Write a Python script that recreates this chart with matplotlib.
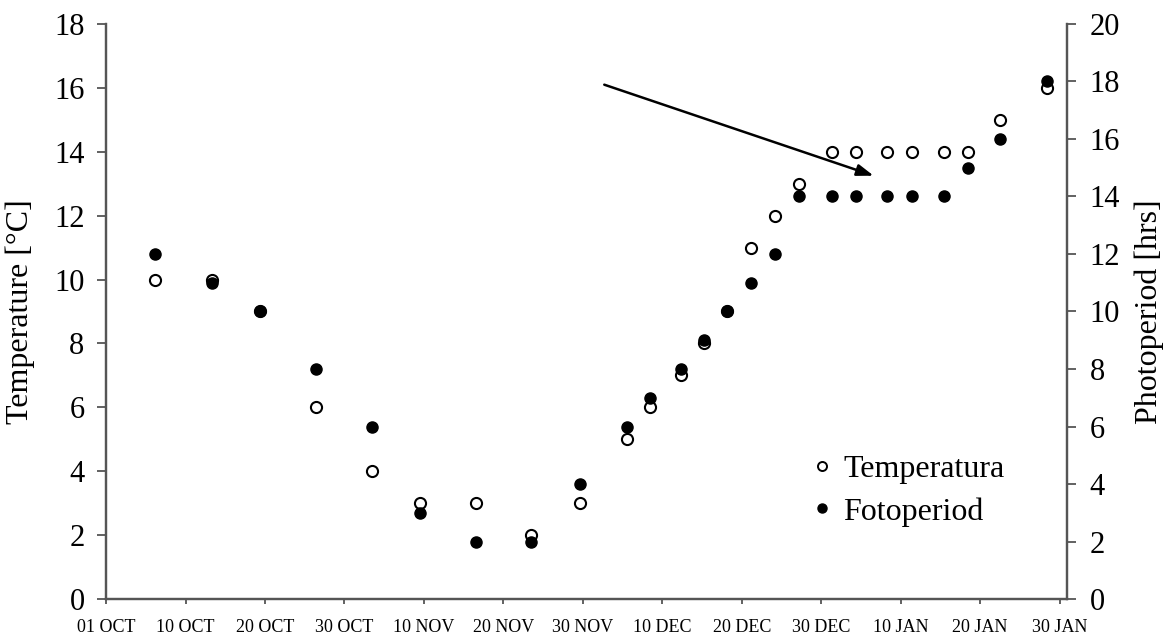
import matplotlib
matplotlib.use("Agg")
import matplotlib.pyplot as plt
from matplotlib.lines import Line2D

plt.rcParams['font.family'] = ['Liberation Serif', 'DejaVu Serif']

# Data (x in days since 01 OCT)
days = [6.2, 13.3, 19.4, 26.4, 33.5, 39.5, 46.5, 53.5, 59.6, 65.5, 68.4, 72.3,
        75.2, 78.2, 81.2, 84.2, 87.2, 91.4, 94.4, 98.3, 101.4, 105.4, 108.5,
        112.5, 118.4]
temperature = [10, 10, 9, 6, 4, 3, 3, 2, 3, 5, 6, 7, 8, 9, 11, 12, 13, 14, 14,
               14, 14, 14, 14, 15, 16]
photoperiod = [12, 11, 10, 8, 6, 3, 2, 2, 4, 6, 7, 8, 9, 10, 11, 12, 14, 14,
               14, 14, 14, 14, 15, 16, 18]
xtick_pos = [0, 10, 20, 30, 40, 50, 60, 70, 80, 90, 100, 110, 120]
xtick_labels = ["01 OCT", "10 OCT", "20 OCT", "30 OCT", "10 NOV", "20 NOV",
                "30 NOV", "10 DEC", "20 DEC", "30 DEC", "10 JAN", "20 JAN",
                "30 JAN"]
left_ticks = [0, 2, 4, 6, 8, 10, 12, 14, 16, 18]
right_ticks = [0, 2, 4, 6, 8, 10, 12, 14, 16, 18, 20]

fig = plt.figure(figsize=(11.68, 6.41), dpi=100)
ax = fig.add_axes([0.0908, 0.0655, 0.9133 - 0.0908, 0.9626 - 0.0655])
ax2 = ax.twinx()

spine_col = '#555555'
ax.plot(days, temperature, linestyle='none', marker='o', ms=8,
        mfc='white', mec='black', mew=1.5, zorder=3)
ax2.plot(days, photoperiod, linestyle='none', marker='o', ms=8,
         mfc='black', mec='black', mew=1.0, zorder=3)

ax.set_xlim(0, 120.9)
ax.set_ylim(0, 18)
ax2.set_ylim(0, 20)

ax.set_xticks(xtick_pos)
ax.set_xticklabels(xtick_labels, fontsize=13)
ax.set_yticks(left_ticks)
ax.set_yticklabels([str(t) for t in left_ticks], fontsize=22)
ax2.set_yticks(right_ticks)
ax2.set_yticklabels([str(t) for t in right_ticks], fontsize=22)

for a in (ax, ax2):
    a.spines['top'].set_visible(False)
    for s in ('left', 'right', 'bottom'):
        a.spines[s].set_color(spine_col)
        a.spines[s].set_linewidth(1.6)
    a.tick_params(direction='out', width=1.3, color=spine_col)
ax.tick_params(axis='x', length=3.6, pad=11)
ax.tick_params(axis='y', length=6.5, pad=9)
ax2.tick_params(axis='y', length=6.5, pad=10)

ax.set_ylabel("Temperature [°C]", fontsize=23)
ax2.set_ylabel("Photoperiod [hrs]", fontsize=23)
ax.yaxis.set_label_coords(-0.0735, 0.5)
ax2.yaxis.set_label_coords(1.071, 0.5)

# Arrow annotation (data coords on temperature axis)
ax.annotate("", xy=(96.6, 13.25), xytext=(62.7, 16.1),
            arrowprops=dict(arrowstyle='-|>,head_length=1.0,head_width=0.35',
                            color='black', lw=1.8, shrinkA=0, shrinkB=0))

handles = [Line2D([], [], linestyle='none', marker='o', ms=6.5, mfc='white',
                  mec='black', mew=1.4),
           Line2D([], [], linestyle='none', marker='o', ms=6.5, mfc='black',
                  mec='black')]
ax2.legend(handles, ["Temperatura", "Fotoperiod"], loc='upper left',
           bbox_to_anchor=(0.734, 0.2516), frameon=False, fontsize=23,
           handletextpad=0.3, handlelength=0.7, labelspacing=0.42,
           borderaxespad=0, borderpad=0)

fig.savefig("out.png", dpi=100)
